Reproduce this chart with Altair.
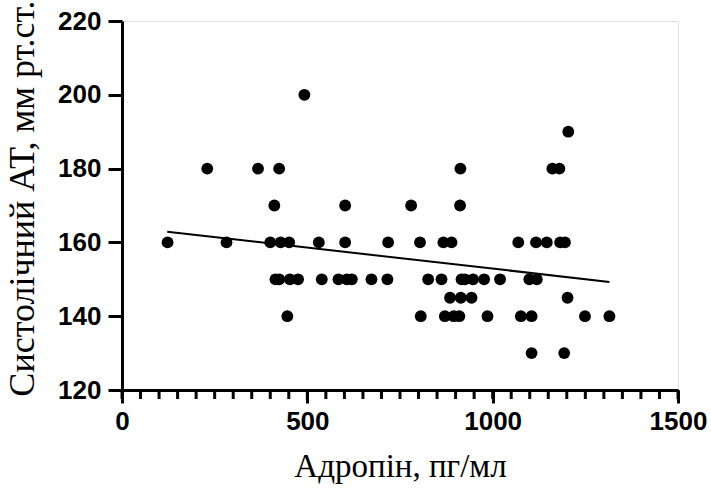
import altair as alt
import pandas as pd

# Adropin (pg/ml) and systolic BP (mm Hg)
adropin = [
    492,
    1204,
    230, 367, 424, 913, 1161, 1180,
    411, 602, 780, 912,
    123, 282, 400, 428, 451, 531, 602, 718, 804, 867, 889, 1069, 1117, 1146, 1182, 1195,
    414, 424, 453, 475, 539, 584, 607, 620, 673, 716, 826, 862, 916, 925, 947, 977, 1020, 1099, 1119,
    885, 914, 943, 1202,
    446, 806, 871, 895, 910, 986, 1076, 1105, 1249, 1315,
    1105, 1193,
]
sbp = (
    [200]
    + [190]
    + [180] * 6
    + [170] * 4
    + [160] * 16
    + [150] * 19
    + [145] * 4
    + [140] * 10
    + [130] * 2
)

# Linear fit line end points as drawn in the reference
fit_x = [122, 1315]
fit_y = [162.9, 149.3]

x_major = [0, 500, 1000, 1500]
x_minor = list(range(0, 1501, 50))
y_ticks = [120, 140, 160, 180, 200, 220]

df = pd.DataFrame({"x": adropin, "y": sbp})
df_fit = pd.DataFrame({"x": fit_x, "y": fit_y})
df_minor = pd.DataFrame({"x": x_minor})

label_font = "Liberation Sans"
title_font = "Liberation Serif"

xscale = alt.Scale(domain=[0, 1500], nice=False, zero=False)
yscale = alt.Scale(domain=[120, 220], nice=False, zero=False)

points = alt.Chart(df).mark_circle(size=140, color="black", opacity=1).encode(
    x=alt.X("x:Q", scale=xscale,
            axis=alt.Axis(values=x_major, title="Адропін, пг/мл", orient="bottom",
                          format="d", tickSize=13, labelPadding=5, titlePadding=16)),
    y=alt.Y("y:Q", scale=yscale,
            axis=alt.Axis(values=y_ticks, title="Систолічний АТ, мм рт.ст.",
                          format="d", tickSize=14, labelPadding=7, titlePadding=16,
                          titleY=177, titleFontSize=36)),
)

fit = alt.Chart(df_fit).mark_line(color="black", strokeWidth=2).encode(
    x=alt.X("x:Q", scale=xscale),
    y=alt.Y("y:Q", scale=yscale),
)

# minor ticks of the x axis (every 50 units), hanging below the axis line
minor = alt.Chart(df_minor).mark_rule(
    color="black", strokeWidth=3, opacity=1, clip=False
).encode(
    x=alt.X("x:Q", scale=xscale),
    y=alt.value(369),
    y2=alt.value(378),
)

chart = (
    alt.layer(points, fit, minor)
    .properties(
        width=556,
        height=369,
        autosize=alt.AutoSizeParams(type="none"),
        padding={"left": 122, "top": 21, "right": 33, "bottom": 103},
    )
    .configure_view(stroke=None)
    .configure(background="white")
    .configure_axis(
        grid=False,
        domainColor="black",
        domainWidth=3,
        tickColor="black",
        tickWidth=3,
        labelFont=label_font,
        labelFontWeight="bold",
        labelFontSize=26,
        labelColor="black",
        labelFlush=False,
        labelOverlap=False,
        titleFont=title_font,
        titleFontWeight="normal",
        titleFontSize=33,
        titleColor="black",
    )
)

chart.save("out.html", embed_options={"renderer": "svg", "actions": False})
